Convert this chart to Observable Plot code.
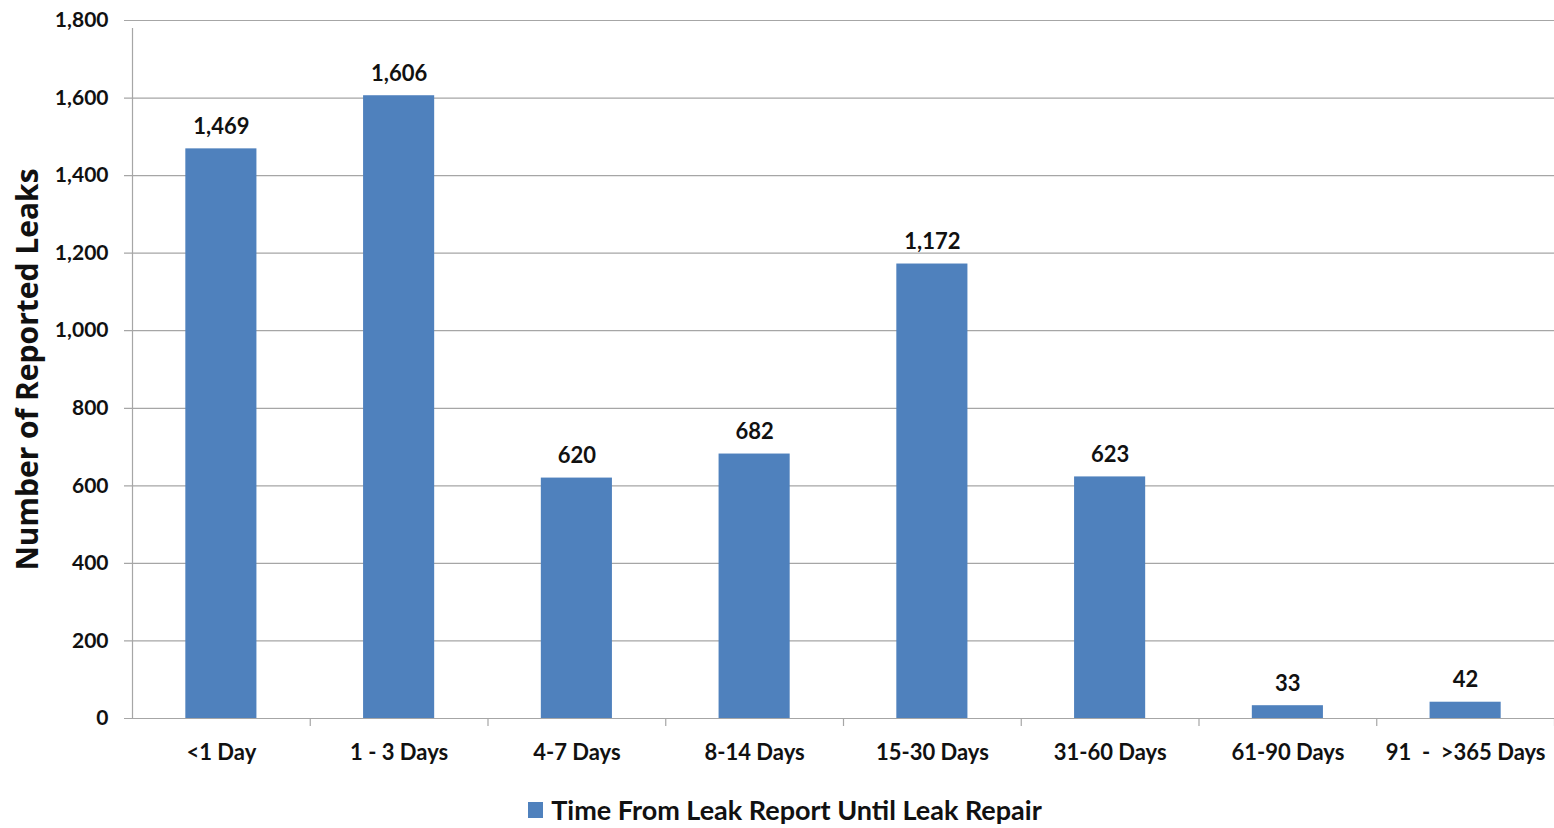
<!DOCTYPE html>
<html>
<head>
<meta charset="utf-8">
<script src="https://cdn.jsdelivr.net/npm/d3@7"></script>
<script src="https://cdn.jsdelivr.net/npm/@observablehq/plot@0.6"></script>
<style>
  body { margin: 0; background: #fff; font-family: Lato, "Open Sans", sans-serif; }
  #chart svg { display: block; }
  .legend { display: flex; align-items: center; justify-content: center; gap: 8px;
            font-family: Lato, sans-serif; font-weight: bold; font-size: 27px; color: #111;
            margin-top: 8px; padding-left: 16px; }
  .legend .swatch { width: 15px; height: 16px; background: #4f81bd; }
</style>
</head>
<body>
<div id="chart"></div>
<div class="legend"><span class="swatch"></span><span>Time From Leak Report Until Leak Repair</span></div>
<script>
// Repair-time buckets and the number of reported leaks in each
const categories = ["<1 Day", "1 - 3 Days", "4-7 Days", "8-14 Days", "15-30 Days", "31-60 Days", "61-90 Days", "91  -  >365 Days"];
const leaks = [1469, 1606, 620, 682, 1172, 623, 33, 42];
const yTicks = [0, 200, 400, 600, 800, 1000, 1200, 1400, 1600, 1800];

const data = categories.map((c, i) => ({category: c, leaks: leaks[i]}));

const W = 1554, H = 785;
const ml = 132, mr = 0, mt = 20, mb = 67;
const step = (W - ml - mr) / categories.length;
const gridColor = "#a6a6a6";
const fmt = d3.format(",");

const chart = Plot.plot({
  width: W,
  height: H,
  marginLeft: ml,
  marginRight: mr,
  marginTop: mt,
  marginBottom: mb,
  style: {fontFamily: "Lato, sans-serif", fontWeight: "bold", fontSize: "21px", color: "#111"},
  x: {domain: categories, paddingInner: 0.6, paddingOuter: 0.3, round: false, label: null},
  y: {domain: [0, 1800], label: null},
  marks: [
    // horizontal gridlines with short ticks left of the axis
    Plot.ruleY(yTicks, {stroke: gridColor, strokeWidth: 1.2, insetLeft: -8}),
    // vertical axis line
    Plot.ruleX([categories[0]], {y1: 0, y2: 1800, dx: -step / 2, stroke: gridColor, strokeWidth: 1.2, insetBottom: -8}),
    // category separator ticks below the baseline
    Plot.ruleX(categories, {y1: 0, y2: 0, dx: step / 2, stroke: gridColor, strokeWidth: 1.2, insetBottom: -8}),
    Plot.barY(data, {x: "category", y: "leaks", fill: "#4f81bd"}),
    Plot.text(data, {x: "category", y: "leaks", text: d => fmt(d.leaks), lineAnchor: "bottom", dy: -15, fontSize: 22, fill: "#111"}),
    Plot.axisY({ticks: yTicks, tickFormat: fmt, tickSize: 0, tickPadding: 24, fontSize: 21}),
    Plot.axisX({tickSize: 0, tickPadding: 26, fontSize: 22}),
    // rotated y-axis title
    Plot.text(["Number of Reported Leaks"], {frameAnchor: "left", textAnchor: "middle", dx: -104, rotate: -90,
      fontSize: 30, fontFamily: "'Open Sans', sans-serif", fontWeight: "bold", fill: "#111"})
  ]
});
document.getElementById("chart").append(chart);
</script>
</body>
</html>
